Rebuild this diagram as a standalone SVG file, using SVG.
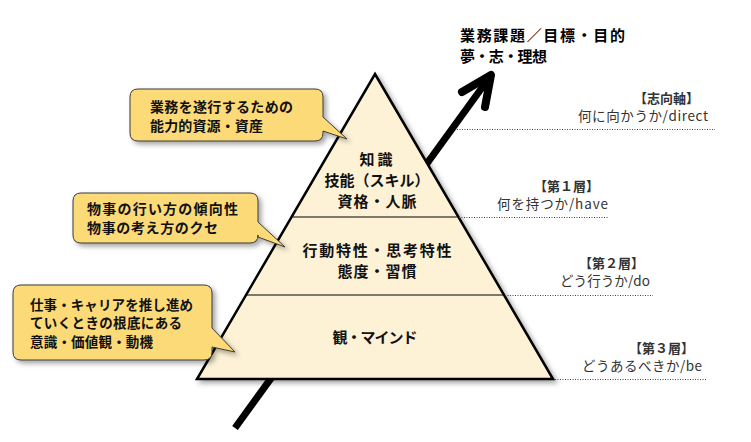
<svg xmlns="http://www.w3.org/2000/svg" width="751" height="442" viewBox="0 0 751 442">
<defs>
<style>
.jp{font-family:"Noto Sans CJK JP","Noto Sans",sans-serif;}
.callout{fill:#FDDA78;stroke:#3a3a3a;stroke-width:1;}
.ctext{font-size:14px;font-weight:bold;fill:#111;}
.ptext{font-size:15px;font-weight:bold;fill:#111;text-anchor:middle;}
.ttext{font-size:15px;font-weight:bold;fill:#000;}
.lab1{font-size:13px;font-weight:bold;fill:#333;text-anchor:end;}
.lab2{font-size:13.5px;fill:#333;text-anchor:end;}
.dot{stroke:#444;stroke-width:1;stroke-dasharray:1 1.5;fill:none;}
.layer{stroke:#000;stroke-width:1;}
</style>
<filter id="sh" x="-20%" y="-20%" width="150%" height="150%">
<feDropShadow dx="3" dy="3" stdDeviation="2.5" flood-color="#000" flood-opacity="0.35"/>
</filter>
</defs>
<rect width="751" height="442" fill="#fff"/>

<g id="connectors">
<path d="M235,428 L489,78" stroke="#000" stroke-width="7" fill="none"/>
<polyline points="462,92 491,75 485,107" stroke="#000" stroke-width="8" fill="none" stroke-linecap="round" stroke-linejoin="round"/>
</g>

<g id="pyramid">
<polygon points="375,74 553,379 197,379" fill="#FDF2D6" stroke="#000" stroke-width="2.5" stroke-linejoin="miter" filter="url(#sh)"/>
<line class="layer" x1="293" y1="217" x2="457" y2="217"/>
<line class="layer" x1="246" y1="295" x2="504" y2="295"/>
</g>

<g id="layer1">
<text class="jp ptext" x="376" y="165" textLength="33">知識</text>
<text class="jp ptext" x="377" y="186" textLength="105">技能（スキル）</text>
<text class="jp ptext" x="377" y="207" textLength="79">資格・人脈</text>
</g>
<g id="layer2">
<text class="jp ptext" x="377" y="255.5" textLength="149">行動特性・思考特性</text>
<text class="jp ptext" x="377" y="276.5" textLength="79">態度・習慣</text>
</g>
<g id="layer3">
<text class="jp ptext" x="375" y="343" textLength="85">観・マインド</text>
</g>

<g id="callout1">
<path class="callout" filter="url(#sh)" d="M138,89 H315 Q323,89 323,97 V117 L347,139 L323,131 V133 Q323,141 315,141 H138 Q130,141 130,133 V97 Q130,89 138,89 Z"/>
<text class="jp ctext" x="150" y="112" textLength="143">業務を遂行するための</text>
<text class="jp ctext" x="150" y="131" textLength="113">能力的資源・資産</text>
</g>

<g id="callout2">
<path class="callout" filter="url(#sh)" d="M81,193 H250 Q258,193 258,201 V222 L285,247 L258,237 V235 Q258,243 250,243 H81 Q73,243 73,235 V201 Q73,193 81,193 Z"/>
<text class="jp ctext" x="87" y="214" textLength="151">物事の行い方の傾向性</text>
<text class="jp ctext" x="87" y="233" textLength="131">物事の考え方のクセ</text>
</g>

<g id="callout3">
<path class="callout" filter="url(#sh)" d="M21,285 H204 Q212,285 212,293 V328 L235,352 L212,347 V352 Q212,360 204,360 H21 Q13,360 13,352 V293 Q13,285 21,285 Z"/>
<text class="jp ctext" x="30" y="309.5" style="font-size:13.5px" textLength="163">仕事・キャリアを推し進め</text>
<text class="jp ctext" x="30" y="328" style="font-size:13.5px" textLength="152">ていくときの根底にある</text>
<text class="jp ctext" x="30" y="346.5" style="font-size:13.5px" textLength="123">意識・価値観・動機</text>
</g>

<g id="goal">
<text class="jp ttext" x="460" y="40.5" textLength="165">業務課題／目標・目的</text>
<text class="jp ttext" x="460" y="61.5" textLength="87">夢・志・理想</text>
</g>

<g id="axis-direct">
<line class="dot" x1="457" y1="129.5" x2="715" y2="129.5"/>
<text class="jp lab1" x="699" y="102.5">【志向軸】</text>
<text class="jp lab2" x="708" y="121" textLength="130">何に向かうか/direct</text>
</g>
<g id="axis-have">
<line class="dot" x1="459" y1="217.5" x2="609" y2="217.5"/>
<text class="jp lab1" x="599" y="190.5">【第１層】</text>
<text class="jp lab2" x="608" y="209" textLength="111">何を持つか/have</text>
</g>
<g id="axis-do">
<line class="dot" x1="505" y1="295.5" x2="653" y2="295.5"/>
<text class="jp lab1" x="644" y="267.5">【第２層】</text>
<text class="jp lab2" x="650" y="286" textLength="90">どう行うか/do</text>
</g>
<g id="axis-be">
<line class="dot" x1="555" y1="379.5" x2="707" y2="379.5"/>
<text class="jp lab1" x="694" y="352.5">【第３層】</text>
<text class="jp lab2" x="702" y="371" textLength="120">どうあるべきか/be</text>
</g>
</svg>
